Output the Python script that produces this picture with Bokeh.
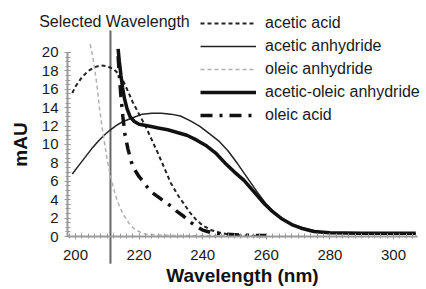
from bokeh.plotting import figure
from bokeh.models import Range1d, SingleIntervalTicker, Legend, LegendItem, Label
from bokeh.embed import file_html
from bokeh.resources import INLINE

# ---- data ----
selected_wavelength = [211]

acetic_acid_x = [199, 200, 202, 204, 206, 208, 210, 212, 213.5, 215, 216.5, 218, 220, 222, 224, 226, 228, 230, 232, 234, 236, 238, 240, 243, 246, 250, 255, 260]
acetic_acid_y = [15.6, 16.3, 17.3, 18.0, 18.4, 18.6, 18.5, 18.2, 17.7, 16.9, 15.8, 14.6, 13.3, 12.0, 10.5, 9.0, 7.4, 5.8, 4.6, 3.6, 2.6, 1.8, 1.2, 0.65, 0.35, 0.15, 0.08, 0.05]

acetic_anhydride_x = [199, 201, 203, 205, 207, 209, 211, 213, 215, 218, 221, 224, 227, 230, 233, 236, 239, 242, 245, 248, 251, 254, 257, 260, 263, 266, 269, 272, 276, 280, 290, 300, 307]
acetic_anhydride_y = [6.8, 7.7, 8.6, 9.5, 10.3, 11.0, 11.6, 12.1, 12.5, 12.9, 13.3, 13.4, 13.4, 13.3, 13.1, 12.6, 12.0, 11.2, 10.4, 9.3, 7.9, 6.4, 4.9, 3.5, 2.5, 1.7, 1.2, 0.9, 0.55, 0.4, 0.3, 0.3, 0.3]

oleic_anhydride_x = [204.6, 205.3, 206, 206.8, 207.6, 208.4, 209.2, 210, 211, 212, 213.2, 215, 217.3, 219, 221.4, 224, 230, 240, 250]
oleic_anhydride_y = [20.9, 19.8, 18.3, 16.3, 13.8, 11.8, 10.0, 8.3, 6.6, 5.2, 3.8, 2.4, 1.2, 0.7, 0.3, 0.2, 0.12, 0.08, 0.05]

acetic_oleic_anhydride_x = [213.4, 213.8, 214.3, 214.8, 215.4, 216.2, 217.2, 218.5, 220, 223, 226, 229, 232, 235, 238, 241, 244, 247, 250, 253, 256, 259, 262, 265, 268, 271, 275, 280, 290, 300, 307]
acetic_oleic_anhydride_y = [20.4, 19.0, 17.5, 16.2, 15.0, 13.9, 13.0, 12.5, 12.2, 12.0, 11.8, 11.6, 11.3, 11.0, 10.5, 9.9, 9.1, 8.0, 7.0, 6.1, 4.9, 3.7, 2.7, 1.9, 1.3, 0.9, 0.55, 0.4, 0.35, 0.35, 0.35]

oleic_acid_x = [213.4, 213.8, 214.3, 214.9, 215.6, 216.5, 218, 220, 221, 222.5, 224, 226, 228, 230, 232, 234, 236, 238, 240, 243, 247, 252, 260]
oleic_acid_y = [19.6, 17.5, 15.2, 13.0, 11.0, 9.5, 7.6, 6.5, 6.1, 5.4, 4.8, 4.3, 3.8, 3.3, 2.7, 2.2, 1.6, 1.1, 0.7, 0.4, 0.25, 0.15, 0.1]

x_ticks_interval = 20
y_ticks_interval = 2
x_axis_bounds = (197.5, 307.5)
y_axis_bounds = (0, 20)

FONT = "Liberation Sans"
AXIS_GREY = "#9a9a9a"

# the frame covers the whole canvas; axes are drawn at fixed data locations
p = figure(width=426, height=289, output_backend="svg", toolbar_location=None,
           x_range=Range1d(176.42, 310.38), y_range=Range1d(-5.76, 25.65),
           min_border_left=0, min_border_right=0, min_border_top=0, min_border_bottom=0)
p.outline_line_color = None
p.grid.visible = False
p.background_fill_color = "white"

xa = p.xaxis[0]
xa.fixed_location = 0
xa.bounds = x_axis_bounds
xa.ticker = SingleIntervalTicker(interval=x_ticks_interval, num_minor_ticks=10)
xa.axis_label = "Wavelength (nm)"
ya = p.yaxis[0]
ya.fixed_location = x_axis_bounds[0]
ya.bounds = y_axis_bounds
ya.ticker = SingleIntervalTicker(interval=y_ticks_interval, num_minor_ticks=4)
ya.axis_label = "mAU"
for ax in (xa, ya):
    ax.axis_line_color = AXIS_GREY
    ax.axis_line_width = 2
    ax.major_tick_line_color = AXIS_GREY
    ax.minor_tick_line_color = AXIS_GREY
    ax.major_tick_in = 3
    ax.major_tick_out = 3
    ax.minor_tick_in = 3
    ax.minor_tick_out = 2
    ax.major_label_text_font = FONT
    ax.major_label_text_font_size = "15px"
    ax.major_label_text_color = "#1a1a1a"
    ax.axis_label_text_font = FONT
    ax.axis_label_text_font_size = "19px"
    ax.axis_label_text_font_style = "bold"
    ax.axis_label_text_color = "#111111"
xa.major_label_standoff = 10
xa.axis_label_standoff = 2
ya.major_label_standoff = 6
ya.axis_label_standoff = 8

# selected wavelength marker
p.segment(x0=selected_wavelength, y0=[-2.95], x1=selected_wavelength, y1=[22.4],
          line_color="#666666", line_width=2)
p.add_layout(Label(x=selected_wavelength[0], y=23.4, text="Selected Wavelength",
                   text_align="center", text_baseline="middle", x_offset=4,
                   text_font=FONT, text_font_size="16px", text_color="#1a1a1a"))

# series
r1 = p.line(acetic_acid_x, acetic_acid_y, line_color="#222222", line_width=2, line_dash="4 3")
r2 = p.line(acetic_anhydride_x, acetic_anhydride_y, line_color="#222222", line_width=1.5)
r3 = p.line(oleic_anhydride_x, oleic_anhydride_y, line_color="#b0b0b0", line_width=1.5, line_dash="4 3")
r4 = p.line(acetic_oleic_anhydride_x, acetic_oleic_anhydride_y, line_color="#111111", line_width=3.5)
r5 = p.line(oleic_acid_x, oleic_acid_y, line_color="#111111", line_width=3.5, line_dash="12 7 3 7")

legend = Legend(items=[
    LegendItem(label="acetic acid", renderers=[r1]),
    LegendItem(label="acetic anhydride", renderers=[r2]),
    LegendItem(label="oleic anhydride", renderers=[r3]),
    LegendItem(label="acetic-oleic anhydride", renderers=[r4]),
    LegendItem(label="oleic acid", renderers=[r5]),
], location=(200, 164), orientation="vertical")
legend.padding = 0
legend.margin = 0
legend.spacing = 3
legend.glyph_width = 56
legend.glyph_height = 20
legend.label_height = 20
legend.label_standoff = 9
legend.label_text_font = FONT
legend.label_text_font_size = "16px"
legend.label_text_color = "#1a1a1a"
legend.border_line_alpha = 0
legend.background_fill_alpha = 0
p.add_layout(legend)

open("out.html", "w").write(file_html(p, INLINE))
